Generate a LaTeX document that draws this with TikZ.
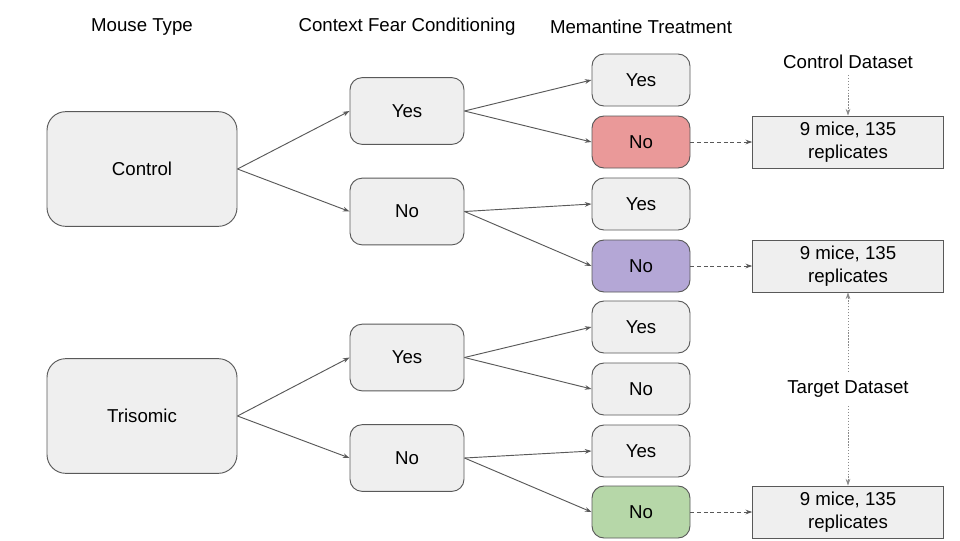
\documentclass[tikz,border=0pt]{standalone}
\usepackage{fontspec}
\setmainfont{Liberation Sans}
\usetikzlibrary{arrows.meta}
\definecolor{boxfill}{HTML}{EFEFEF}
\definecolor{boxline}{HTML}{595959}
\definecolor{dotline}{HTML}{8A8A8A}
\definecolor{redfill}{HTML}{EA9999}
\definecolor{purfill}{HTML}{B4A7D6}
\definecolor{grnfill}{HTML}{B6D7A8}
\begin{document}
\begin{tikzpicture}[x=0.75pt,y=-0.75pt,
  font=\fontsize{14}{17.5}\selectfont,
  box/.style={draw=boxline,fill=boxfill,line width=0.7pt,rounded corners=9pt,align=center,inner sep=0pt},
  bigbox/.style={box,minimum width=142.5pt,minimum height=86pt,rounded corners=14pt},
  cfcbox/.style={box,minimum width=85.5pt,minimum height=50pt},
  mtbox/.style={box,minimum width=73.5pt,minimum height=39pt},
  dsbox/.style={box,rounded corners=0pt,minimum width=143pt,minimum height=39pt},
  conn/.style={draw=boxline,line width=0.7pt,-{Stealth[length=5pt,width=3.5pt]}},
  dconn/.style={conn,dashed,dash pattern=on 3pt off 2pt},
  dotconn/.style={conn,draw=dotline,dash pattern=on 1pt off 1.2pt,line width=0.6pt}]
\useasboundingbox (0,0) rectangle (960,540);
\fill[white] (0,0) rectangle (960,540);
% headers
\node (h1) at (142,27) {Mouse Type};
\node (h2) at (407,27) {Context Fear Conditioning};
\node (h3) at (641,27) {Memantine Treatment};
% mouse type
\node[bigbox] (ctrl) at (142,169) {Control};
\node[bigbox] (tri) at (142,416) {Trisomic};
% CFC
\node[cfcbox] (c1) at (407,111) {Yes};
\node[cfcbox] (c2) at (407,211.5) {No};
\node[cfcbox] (c3) at (407,357.5) {Yes};
\node[cfcbox] (c4) at (407,458) {No};
% memantine
\node[mtbox] (m1) at (641,80) {Yes};
\node[mtbox,fill=redfill] (m2) at (641,142) {No};
\node[mtbox] (m3) at (641,204) {Yes};
\node[mtbox,fill=purfill] (m4) at (641,266) {No};
\node[mtbox] (m5) at (641,327) {Yes};
\node[mtbox] (m6) at (641,389) {No};
\node[mtbox] (m7) at (641,451) {Yes};
\node[mtbox,fill=grnfill] (m8) at (641,512) {No};
% datasets
\node[dsbox] (d1) at (848,142) {9 mice, 135\\replicates};
\node[dsbox] (d2) at (848,266) {9 mice, 135\\replicates};
\node[dsbox] (d3) at (848,512) {9 mice, 135\\replicates};
\node (cl) at (848,62) {Control Dataset};
\node (tl) at (848,389) {Target Dataset};
% connectors
\draw[conn] (ctrl.east) -- (c1.west);
\draw[conn] (ctrl.east) -- (c2.west);
\draw[conn] (tri.east) -- (c3.west);
\draw[conn] (tri.east) -- (c4.west);
\draw[conn] (c1.east) -- (m1.west);
\draw[conn] (c1.east) -- (m2.west);
\draw[conn] (c2.east) -- (m3.west);
\draw[conn] (c2.east) -- (m4.west);
\draw[conn] (c3.east) -- (m5.west);
\draw[conn] (c3.east) -- (m6.west);
\draw[conn] (c4.east) -- (m7.west);
\draw[conn] (c4.east) -- (m8.west);
\draw[dconn] (m2.east) -- (d1.west);
\draw[dconn] (m4.east) -- (d2.west);
\draw[dconn] (m8.east) -- (d3.west);
\draw[dotconn] ([yshift=-1pt]cl.south) -- (d1.north);
\draw[dotconn] ([yshift=3pt]tl.north) -- (d2.south);
\draw[dotconn] ([yshift=-3pt]tl.south) -- (d3.north);
\end{tikzpicture}
\end{document}
